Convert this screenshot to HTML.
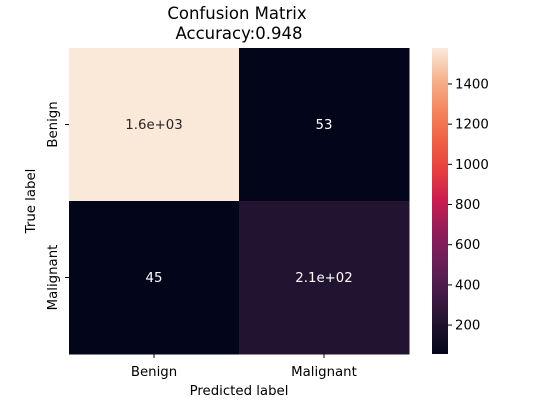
<!DOCTYPE html>
<html><head><meta charset="utf-8"><style>
body{margin:0;background:#fff;}
svg{display:block;font-family:"DejaVu Sans","Liberation Sans",sans-serif;}
</style></head><body>
<svg id="chart" width="550" height="400" viewBox="0 0 550 400">
<defs>
<linearGradient id="rocket" x1="0" y1="1" x2="0" y2="0">
<stop offset="0" stop-color="#03051a"/>
<stop offset="0.1" stop-color="#221331"/>
<stop offset="0.2" stop-color="#451c47"/>
<stop offset="0.3" stop-color="#6a1f56"/>
<stop offset="0.4" stop-color="#921c5b"/>
<stop offset="0.5" stop-color="#cb1b4f"/>
<stop offset="0.6" stop-color="#e83f3f"/>
<stop offset="0.7" stop-color="#f06043"/>
<stop offset="0.8" stop-color="#f4875e"/>
<stop offset="0.9" stop-color="#f6b48e"/>
<stop offset="1" stop-color="#faebdd"/>
</linearGradient>
</defs>
<text x="237" y="19" font-size="16.5" text-anchor="middle">Confusion Matrix</text>
<text x="239" y="39" font-size="16.5" text-anchor="middle">Accuracy:0.948</text>
<g id="cells"></g>
<rect x="432" y="48" width="16" height="306" fill="url(#rocket)"/>
<g id="cbticks"></g>
<g id="axes"></g>
<text x="239" y="395" font-size="13.3" text-anchor="middle">Predicted label</text>
<text transform="translate(35,201) rotate(-90)" font-size="13.3" text-anchor="middle">True label</text>
</svg>
<script>
const labels=["Benign","Malignant"];
const values=[[1570,53],[45,210]];
const printed=[["1.6e+03","53"],["45","2.1e+02"]];
const cbTicks=[200,400,600,800,1000,1200,1400];
const vmin=56, vmax=1579;
const X0=69,Y0=48,W=340,H=306,CB0=48,CBH=306;
const stops=[[0,"#03051a"],[0.1,"#221331"],[0.2,"#451c47"],[0.3,"#6a1f56"],[0.4,"#921c5b"],[0.5,"#cb1b4f"],[0.6,"#e83f3f"],[0.7,"#f06043"],[0.8,"#f4875e"],[0.9,"#f6b48e"],[1,"#faebdd"]];
function hex(h){return [1,3,5].map(i=>parseInt(h.substr(i,2),16));}
function color(v){let t=Math.max(0,Math.min(1,(v-vmin)/(vmax-vmin)));
for(let i=1;i<stops.length;i++){if(t<=stops[i][0]){const a=hex(stops[i-1][1]),b=hex(stops[i][1]);const f=(t-stops[i-1][0])/(stops[i][0]-stops[i-1][0]);return "rgb("+a.map((c,k)=>Math.round(c+(b[k]-c)*f)).join(",")+")";}}return stops[stops.length-1][1];}
function lum(v){let t=(v-vmin)/(vmax-vmin);return t>0.6;}
const ns="http://www.w3.org/2000/svg";
const n=labels.length,cw=W/n,ch=H/n;
const cells=document.getElementById("cells"),axes=document.getElementById("axes"),cbt=document.getElementById("cbticks");
function mk(t,a,p){const e=document.createElementNS(ns,t);for(const k in a)e.setAttribute(k,a[k]);p.appendChild(e);return e;}
for(let r=0;r<n;r++)for(let c=0;c<n;c++){
const rc=mk("rect",{x:X0+c*cw,y:Y0+r*ch,width:cw+0.5,height:ch+0.5,fill:color(values[r][c])},cells);


const tx=mk("text",{x:X0+(c+0.5)*cw,y:Y0+(r+0.5)*ch+4.5,"font-size":"13.3","text-anchor":"middle",fill:lum(values[r][c])?"#262626":"#ffffff"},cells);
tx.textContent=printed[r][c];


}
for(let i=0;i<n;i++){
const x=X0+(i+0.5)*cw;
mk("line",{x1:x,y1:Y0+H,x2:x,y2:Y0+H+4,stroke:"#000"},axes);
const t=mk("text",{x:x,y:Y0+H+22,"font-size":"13.3","text-anchor":"middle"},axes);t.textContent=labels[i];


const y=Y0+(i+0.5)*ch;
mk("line",{x1:X0-4,y1:y,x2:X0,y2:y,stroke:"#000"},axes);
const u=mk("text",{transform:"translate("+(X0-12)+","+y+") rotate(-90)","font-size":"13.3","text-anchor":"middle"},axes);u.textContent=labels[i];


}
cbTicks.forEach(v=>{const y=CB0+CBH*(vmax-v)/(vmax-vmin);
mk("line",{x1:448,y1:y,x2:452,y2:y,stroke:"#000"},cbt);
const t=mk("text",{x:455,y:y+4.5,"font-size":"13.3"},cbt);t.textContent=v;

});
</script>
</body></html>
